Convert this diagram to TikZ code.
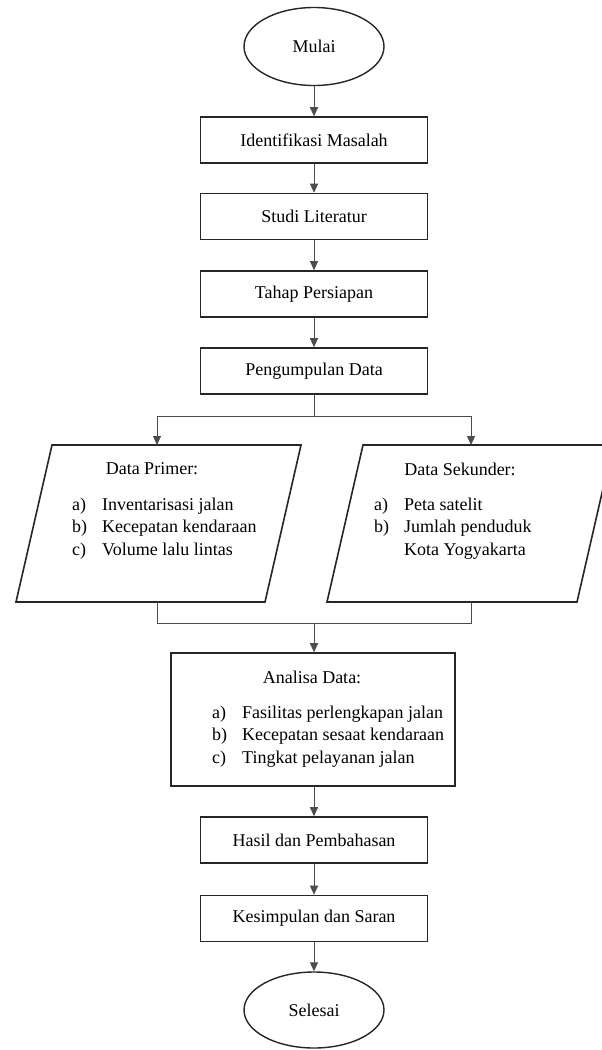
\documentclass[tikz,border=0pt]{standalone}
\usepackage{fontspec}
\setmainfont{Liberation Serif}
\usetikzlibrary{shapes.geometric,arrows.meta}
\newcommand{\fsz}{\fontsize{18}{22.5}\selectfont}
\begin{document}
\begin{tikzpicture}[x=1pt,y=-1pt,
  box/.style={draw=black!85,line width=1.6pt,minimum width=227pt,minimum height=46pt,inner sep=0pt,font=\fsz},
  term/.style={ellipse,draw=black!85,line width=1.4pt,minimum width=140pt,minimum height=78pt,inner sep=0pt,font=\fsz},
  pbox/.style={draw=black!85,line width=1.6pt,line join=miter},
  txt/.style={inner sep=0pt,font=\fsz},
  conn/.style={draw=black!70,line width=0.9pt},
  arr/.style={conn,-{Triangle[length=9pt,width=8pt]}}]
\useasboundingbox (0,0) rectangle (602,1050);
\fill[white] (0,0) rectangle (602,1050);

\node[term] (mulai) at (314,46.5) {Mulai};
\node[box] (iden) at (314,140) {Identifikasi Masalah};
\node[box] (studi) at (314,216.5) {Studi Literatur};
\node[box] (tahap) at (314,294) {Tahap Persiapan};
\node[box] (peng) at (314,371) {Pengumpulan Data};

% Data Primer parallelogram
\draw[pbox] (52,445) -- (301,445) -- (265,602) -- (16,602) -- cycle;
\coordinate (primerN) at (157,445);
\coordinate (primerS) at (157,602);
\node[txt] (primerT) at (152,469) {Data Primer:};
\node[txt,anchor=west] (primerL) at (72,528) {\begin{tabular}{@{}l@{\hspace{15pt}}l@{}}a) & Inventarisasi jalan\\ b) & Kecepatan kendaraan\\ c) & Volume lalu lintas\end{tabular}};

% Data Sekunder parallelogram
\draw[pbox] (363,445) -- (613,445) -- (577,602) -- (327,602) -- cycle;
\coordinate (sekN) at (471,445);
\coordinate (sekS) at (471,602);
\node[txt] (sekT) at (460,469) {Data Sekunder:};
\node[txt,anchor=west] (sekL) at (374,528) {\begin{tabular}{@{}l@{\hspace{15pt}}l@{}}a) & Peta satelit\\ b) & Jumlah penduduk\\ & Kota Yogyakarta\end{tabular}};

% Analisa
\node[draw=black!85,line width=1.6pt,minimum width=284pt,minimum height=133pt,inner sep=0pt] (analisa) at (313,719.5) {};
\node[txt] (analisaT) at (312,677) {Analisa Data:};
\node[txt,anchor=west] (analisaL) at (212,736) {\begin{tabular}{@{}l@{\hspace{15pt}}l@{}}a) & Fasilitas perlengkapan jalan\\ b) & Kecepatan sesaat kendaraan\\ c) & Tingkat pelayanan jalan\end{tabular}};

\node[box] (hasil) at (314,840) {Hasil dan Pembahasan};
\node[box] (kesim) at (314,918.5) {Kesimpulan dan Saran};
\node[term,minimum height=76pt] (selesai) at (314,1010) {Selesai};

% connectors
\draw[arr] (mulai.south) -- (iden.north);
\draw[arr] (iden.south) -- (studi.north);
\draw[arr] (studi.south) -- (tahap.north);
\draw[arr] (tahap.south) -- (peng.north);
\coordinate (split) at (314,416);
\draw[conn] (peng.south) -- (split);
\draw[arr] (split) -| (primerN);
\draw[arr] (split) -| (sekN);
\coordinate (merge) at (314,623);
\draw[conn] (primerS) |- (merge);
\draw[conn] (sekS) |- (merge);
\draw[arr] (merge) -- (merge |- analisa.north);
\draw[arr] (analisa.south -| hasil.north) -- (hasil.north);
\draw[arr] (hasil.south) -- (kesim.north);
\draw[arr] (kesim.south) -- (selesai.north);
\end{tikzpicture}
\end{document}
